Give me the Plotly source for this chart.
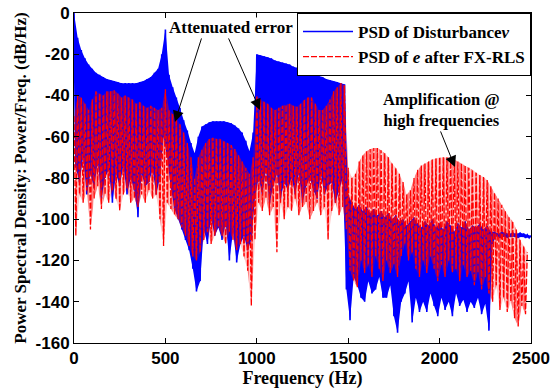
import plotly.graph_objects as go

# Frequency grids (Hz): local maxima and local minima of the dense PSD traces
peak_freq = list(range(0, 2501, 20))
trough_freq = list(range(10, 2500, 20))

# PSD of disturbance v (dB/Hz)
blue_peak = [
    0, -12, -18, -22, -25,
    -27, -29, -30, -31, -32,
    -32.5, -33, -33.5, -34, -34,
    -34, -34, -34, -33.5, -33,
    -32, -31, -29, -27, -20,
    -8, -30, -36, -41, -46,
    -52, -57, -63, -68, -60,
    -55, -54, -53, -52.5, -52.5,
    -52.5, -52.5, -53, -53.5, -54.5,
    -56, -58, -62, -67, -58,
    -20, -20.5, -21, -21.5, -22,
    -23, -23.5, -24, -24.5, -25,
    -26, -26.5, -27, -27.5, -28,
    -29, -29.5, -30.5, -31, -32,
    -32.5, -33, -33.5, -34, -34.5,
    -88, -92, -95, -93, -96,
    -94, -97, -95, -98, -96,
    -99, -97, -100, -98, -101,
    -100, -103, -101, -99, -102,
    -104, -101, -103, -100, -104,
    -102, -105, -101, -103, -106,
    -102, -104, -101, -105, -103,
    -104, -102, -105, -103, -106,
    -106, -107, -106, -106.5, -107,
    -106.5, -107, -106.5, -107, -107.5,
    -108,
]
blue_trough = [
    -75, -82, -70, -88, -78,
    -85, -72, -90, -80, -76,
    -92, -78, -84, -74, -88,
    -80, -86, -99, -78, -84,
    -82, -76, -88, -80, -60,
    -70, -85, -95, -100, -105,
    -110, -115, -124, -135, -130,
    -105, -112, -100, -108, -104,
    -110, -102, -120, -106, -121,
    -112, -108, -115, -110, -90,
    -80, -88, -76, -92, -84,
    -78, -90, -82, -86, -80,
    -88, -78, -92, -84, -80,
    -86, -90, -78, -88, -84,
    -82, -92, -86, -80, -134,
    -149, -128, -132, -138, -140,
    -130, -136, -134, -128, -138,
    -138, -132, -147, -155, -140,
    -136, -130, -150, -138, -145,
    -140, -145, -136, -142, -147,
    -138, -144, -140, -147, -136,
    -142, -139, -145, -140, -143,
    -138, -146, -141, -154, -112,
    -108, -109, -108.5, -109, -108.5,
    -108.5, -109, -108.5, -109, -109,
]

# PSD of error e after FX-RLS (dB/Hz)
red_peak = [
    -50, -40, -41, -44, -47,
    -42, -38, -39, -40, -38,
    -38, -37.5, -39, -41, -40,
    -41, -42, -44, -43, -45,
    -46, -45, -46, -47, -46,
    -37, -47, -49, -51, -54,
    -58, -63, -70, -80, -70,
    -66, -63, -61, -60.5, -61,
    -61, -62, -63, -64, -66,
    -69, -72, -75, -78, -70,
    -40, -42, -43, -44, -46,
    -47, -46, -45, -44.5, -44,
    -45, -45.5, -44, -42, -41,
    -41, -44, -47, -47, -45,
    -42, -38, -36, -34, -35,
    -75, -80, -78, -72, -69,
    -67, -66, -65.5, -65.5, -66.5,
    -68, -70, -73, -75, -78,
    -82, -88, -86, -80, -76,
    -74, -73, -72, -71, -70.5,
    -70, -70, -70, -70, -71,
    -72, -73, -74, -75, -76,
    -77.5, -78.5, -79.5, -81, -84,
    -87, -90, -93, -96, -99,
    -101, -105, -110, -113, -116,
    None,
]
red_trough = [
    -108, -88, -92, -86, -105,
    -90, -84, -95, -88, -92,
    -86, -90, -96, -88, -85,
    -92, -90, -94, -88, -92,
    -86, -90, -88, -100, -113,
    -92, -95, -98, -100, -104,
    -108, -113, -118, -120, -116,
    -110, -106, -112, -108, -104,
    -108, -112, -106, -110, -115,
    -112, -118, -125, -142, -110,
    -92, -96, -90, -98, -94,
    -116, -92, -100, -94, -96,
    -90, -98, -94, -92, -100,
    -96, -92, -98, -94, -110,
    -96, -92, -98, -94, -105,
    -125, -130, -133, -120, -126,
    -122, -128, -118, -124, -130,
    -120, -126, -122, -128, -118,
    -112, -120, -116, -124, -128,
    -120, -126, -118, -124, -130,
    -122, -128, -120, -126, -124,
    -130, -122, -128, -125, -132,
    -126, -134, -128, -136, -140,
    -132, -144, -138, -145, -140,
    -148, -152, -142, -146, None,
]

x_ticks = [0, 500, 1000, 1500, 2000, 2500]
x_tick_text = ["0", "500", "1000", "1500", "2000", "2500"]
y_ticks = [0, -20, -40, -60, -80, -100, -120, -140, -160]
y_tick_text = ["0", "-20", "-40", "-60", "-80", "-100", "-120", "-140", "-160"]


def interleave(pf, pv, tf, tv):
    xs, ys = [], []
    for i in range(len(pf)):
        xs.append(pf[i]); ys.append(pv[i])
        if i < len(tf):
            xs.append(tf[i]); ys.append(tv[i])
    return xs, ys


def band(pf, pv, tf, tv):
    top = [(f, v) for f, v in zip(pf, pv) if v is not None]
    bot = [(f, v) for f, v in zip(tf, tv) if v is not None]
    pts = top + bot[::-1]
    return [p[0] for p in pts], [p[1] for p in pts]


bx, by = interleave(peak_freq, blue_peak, trough_freq, blue_trough)
rx, ry = interleave(peak_freq, red_peak, trough_freq, red_trough)
bbx, bby = band(peak_freq, blue_peak, trough_freq, blue_trough)
rbx, rby = band(peak_freq, red_peak, trough_freq, red_trough)

serif = "Liberation Serif, Times New Roman, serif"
sans = "Liberation Sans, Arial, sans-serif"

fig = go.Figure()
fig.add_trace(go.Scatter(
    x=bbx, y=bby, mode="none", fill="toself", fillcolor="#0000ff",
    showlegend=False, hoverinfo="skip",
))
fig.add_trace(go.Scatter(
    x=bx, y=by, mode="lines", name="<b>PSD of Disturbance<i>v</i></b>",
    line=dict(color="#0000ff", width=1.6, simplify=False),
))
fig.add_trace(go.Scatter(
    x=rbx, y=rby, mode="none", fill="toself", fillcolor="rgba(0,0,0,0)",
    fillpattern=dict(shape="|", fgcolor="#ff0000", bgcolor="rgba(0,0,0,0)",
                     size=4, solidity=0.72),
    showlegend=False, hoverinfo="skip",
))
fig.add_trace(go.Scatter(
    x=rx, y=ry, mode="lines", name="<b>PSD of <i>e</i> after FX-RLS</b>",
    line=dict(color="#ff0000", width=1.3, dash="6px,2px", simplify=False),
))

arrow = dict(showarrow=True, arrowhead=2, arrowsize=2.2, arrowwidth=1,
             arrowcolor="black", axref="x", ayref="y", xref="x", yref="y", text="")
fig.add_annotation(x=552, y=-52.8, ax=700, ay=-11.6, **arrow)
fig.add_annotation(x=1017, y=-47, ax=842, ay=-11.6, **arrow)
fig.add_annotation(x=2084, y=-74.7, ax=2002, ay=-56.7, **arrow)
fig.add_annotation(x=859, y=-6.8, text="<b>Attenuated error</b>", showarrow=False,
                   xref="x", yref="y", font=dict(family=serif, size=17, color="black"),
                   bgcolor="white", borderpad=0)
fig.add_annotation(x=2008, y=-47, text="<b>Amplification @<br>high frequencies</b>",
                   showarrow=False, xref="x", yref="y",
                   font=dict(family=serif, size=16.5, color="black"))

axis_common = dict(showline=True, linecolor="black", linewidth=1, mirror="ticks",
                   ticks="inside", ticklen=5, tickcolor="black", showgrid=False,
                   zeroline=False, automargin=False,
                   tickfont=dict(family=sans, size=17, color="black"))

fig.update_layout(
    width=553, height=392,
    margin=dict(l=74, r=22, t=13, b=49),
    paper_bgcolor="white", plot_bgcolor="white",
    showlegend=True,
    legend=dict(x=1, y=1, xanchor="right", yanchor="top", bgcolor="white",
                bordercolor="black", borderwidth=1,
                font=dict(family=serif, size=17, color="black"),
                tracegroupgap=0, itemwidth=50),
    xaxis=dict(range=[0, 2500], tickvals=x_ticks,
               ticktext=["<b>%s</b>" % t for t in x_tick_text],
               title=dict(text="<b>Frequency (Hz)</b>", standoff=2,
                          font=dict(family=serif, size=18, color="black")),
               **axis_common),
    yaxis=dict(range=[-160, 0], tickvals=y_ticks,
               ticktext=["<b>%s</b>" % t for t in y_tick_text],
               title=dict(text="<b>Power Spectral Density: Power/Freq. (dB/Hz)</b>", standoff=4,
                          font=dict(family=serif, size=17, color="black")),
               **axis_common),
)

fig.write_html("out.html", config={"displayModeBar": False},
               post_script="document.body.style.margin='0px';")
